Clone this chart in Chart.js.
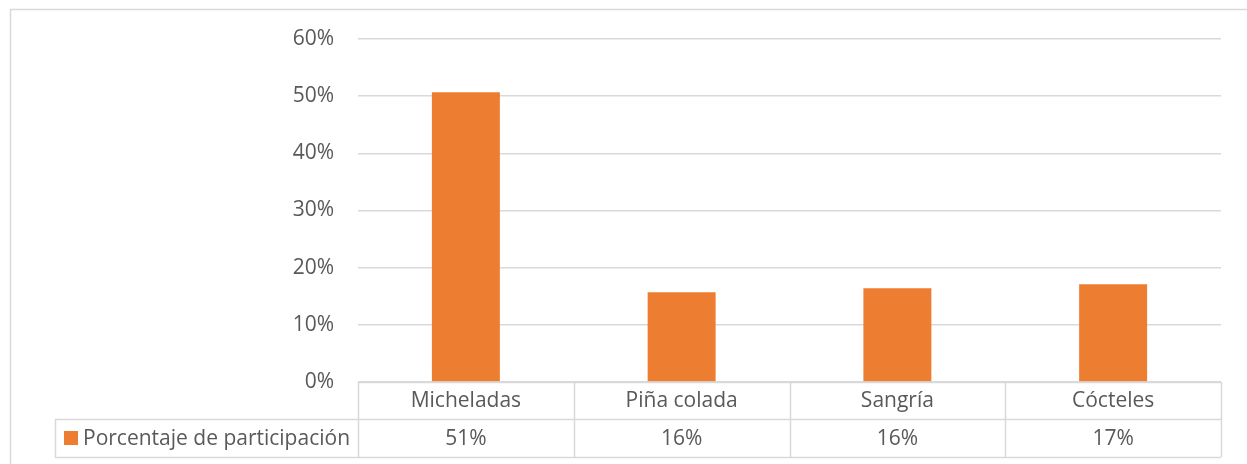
<!DOCTYPE html>
<html>
<head>
<meta charset="utf-8">
<script src="https://cdn.jsdelivr.net/npm/chart.js@4"></script>
<style>
  html, body { margin: 0; padding: 0; background: #fff; }
  #wrap { width: 1247px; height: 464px; position: relative; }
</style>
</head>
<body>
<div id="wrap"><canvas id="grafico"></canvas></div>
<script>
// Datos del gráfico
const categorias = ['Micheladas', 'Piña colada', 'Sangría', 'Cócteles'];
const porcentajes = [50.7, 15.7, 16.4, 17.1];
const nombreSerie = 'Porcentaje de participación';
const ticksY = [0, 10, 20, 30, 40, 50, 60];

const FUENTE = '"Open Sans", Lato, sans-serif';
const TAM_FUENTE = 21;
const GRIS_TEXTO = '#595959';
const GRIS_LINEA = '#d9d9d9';
const NARANJA = '#ED7D31';

// Marco del gráfico y tabla de datos bajo el eje X
const tablaDatos = {
  id: 'tablaDatos',
  afterDraw(chart) {
    const ctx = chart.ctx;
    const x = chart.scales.x;
    const area = chart.chartArea;
    const fila1 = area.bottom;
    const fila2 = fila1 + 37;
    const fila3 = fila2 + 38;
    const izqLeyenda = 55;

    ctx.save();
    // borde exterior
    ctx.strokeStyle = GRIS_LINEA;
    ctx.lineWidth = 1.5;
    ctx.beginPath();
    ctx.moveTo(10.5, 470);
    ctx.lineTo(10.5, 9.5);
    ctx.lineTo(1260, 9.5);
    ctx.stroke();

    // líneas de la tabla
    ctx.beginPath();
    ctx.moveTo(area.left, fila1 + 0.5); ctx.lineTo(area.right, fila1 + 0.5);
    ctx.moveTo(izqLeyenda, fila2 + 0.5); ctx.lineTo(area.right, fila2 + 0.5);
    ctx.moveTo(izqLeyenda, fila3 + 0.5); ctx.lineTo(area.right, fila3 + 0.5);
    ctx.moveTo(izqLeyenda + 0.5, fila2); ctx.lineTo(izqLeyenda + 0.5, fila3);
    const anchoCat = (area.right - area.left) / categorias.length;
    for (let i = 0; i <= categorias.length; i++) {
      const px = Math.round(area.left + i * anchoCat) + 0.5;
      ctx.moveTo(px, fila1); ctx.lineTo(px, fila3);
    }
    ctx.stroke();

    // textos de categorías y valores
    ctx.fillStyle = GRIS_TEXTO;
    ctx.font = TAM_FUENTE + 'px ' + FUENTE;
    ctx.textAlign = 'center';
    ctx.textBaseline = 'middle';
    categorias.forEach((c, i) => {
      const cx = x.getPixelForValue(i);
      ctx.fillText(c, cx, (fila1 + fila2) / 2 + 1);
      ctx.fillText(Math.round(porcentajes[i]) + '%', cx, (fila2 + fila3) / 2 + 1);
    });

    // clave de leyenda
    ctx.fillStyle = NARANJA;
    ctx.fillRect(64, fila2 + 12, 14, 14);
    ctx.fillStyle = GRIS_TEXTO;
    ctx.textAlign = 'left';
    ctx.fillText(nombreSerie, 83, (fila2 + fila3) / 2 + 1);
    ctx.restore();
  }
};

const ctx = document.getElementById('grafico').getContext('2d');
new Chart(ctx, {
  type: 'bar',
  data: {
    labels: categorias,
    datasets: [{
      label: nombreSerie,
      data: porcentajes,
      backgroundColor: NARANJA,
      borderWidth: 0,
      barPercentage: 0.63,
      categoryPercentage: 0.5
    }]
  },
  options: {
    responsive: true,
    maintainAspectRatio: false,
    animation: false,
    layout: { padding: { left: 0, right: 26, top: 39, bottom: 82 } },
    plugins: { legend: { display: false }, tooltip: { enabled: false } },
    scales: {
      x: {
        display: false
      },
      y: {
        min: 0,
        max: 60,
        afterFit(scale) { scale.width = 358; },
        afterBuildTicks(scale) { scale.ticks = ticksY.map(v => ({ value: v })); },
        border: { display: false },
        grid: { color: GRIS_LINEA, lineWidth: 1.5, drawTicks: false },
        ticks: {
          padding: 24,
          color: GRIS_TEXTO,
          font: { family: FUENTE, size: TAM_FUENTE },
          callback: v => v + '%'
        }
      }
    }
  },
  plugins: [tablaDatos]
});
</script>
</body>
</html>
